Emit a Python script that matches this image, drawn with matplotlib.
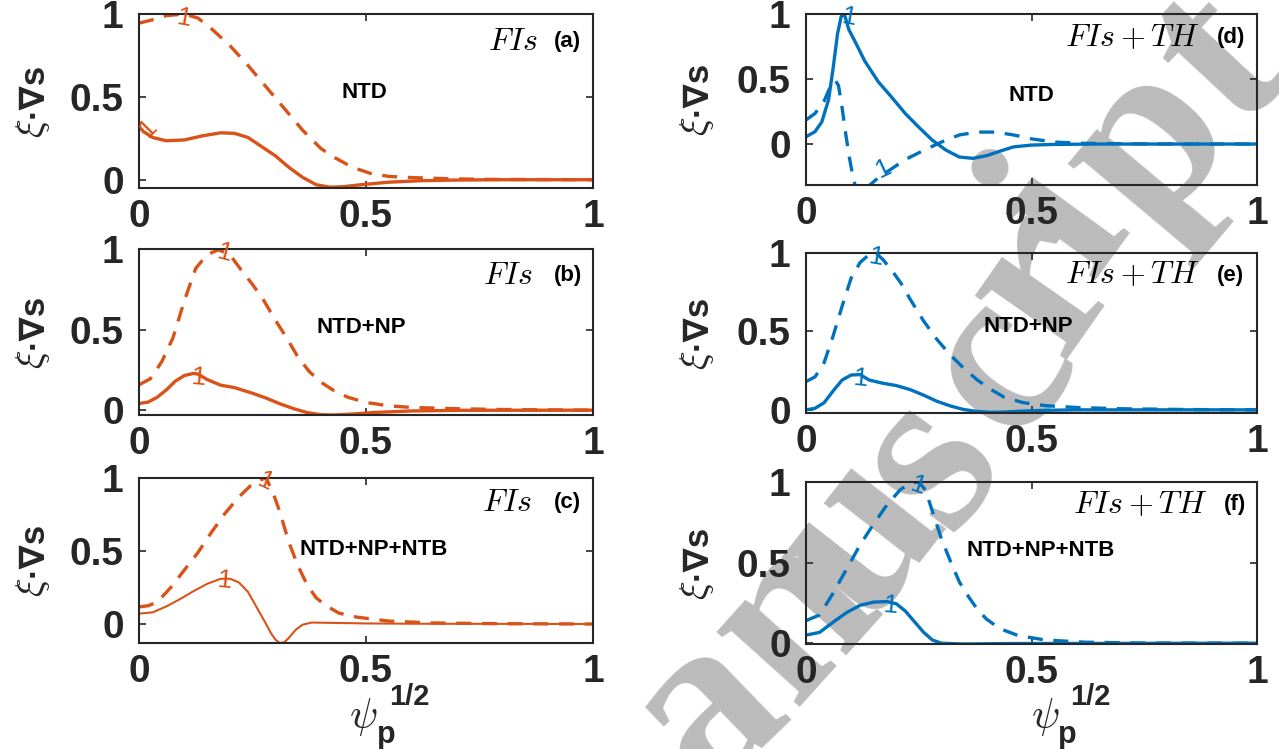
import matplotlib
matplotlib.use("Agg")
import matplotlib.pyplot as plt

plt.rcParams['mathtext.fontset'] = 'cm'
plt.rcParams['font.family'] = ['Liberation Sans', 'DejaVu Sans']

ORANGE = '#D95319'
BLUE = '#0072BD'
DARK = '#262626'

# (a) FIs, NTD
xa_dash = [0, 0.03, 0.06, 0.1, 0.13, 0.16, 0.2, 0.24, 0.28, 0.32, 0.36, 0.4, 0.43, 0.47, 0.51, 0.55, 0.6, 0.68, 0.77, 0.88, 1.0]
ya_dash = [0.945, 0.965, 0.99, 1.0, 0.975, 0.91, 0.81, 0.69, 0.56, 0.43, 0.3, 0.19, 0.135, 0.075, 0.038, 0.02, 0.013, 0.006, 0.002, 0.001, 0.0]
xa_sol = [0, 0.01, 0.03, 0.06, 0.1, 0.14, 0.18, 0.21, 0.24, 0.27, 0.3, 0.33, 0.36, 0.39, 0.42, 0.45, 0.49, 0.55, 0.62, 0.7, 0.8, 1.0]
ya_sol = [0.32, 0.29, 0.255, 0.235, 0.24, 0.265, 0.283, 0.28, 0.255, 0.2, 0.145, 0.075, 0.015, -0.03, -0.045, -0.042, -0.03, -0.015, -0.006, -0.002, 0.0, 0.0]

# (b) FIs, NTD+NP
xb_dash = [0, 0.025, 0.05, 0.075, 0.1, 0.125, 0.15, 0.175, 0.2, 0.225, 0.25, 0.275, 0.3, 0.325, 0.35, 0.375, 0.4, 0.43, 0.46, 0.5, 0.55, 0.6, 0.7, 0.8, 1.0]
yb_dash = [0.157, 0.195, 0.3, 0.45, 0.68, 0.88, 0.965, 0.995, 0.965, 0.87, 0.78, 0.68, 0.56, 0.45, 0.33, 0.24, 0.175, 0.12, 0.08, 0.048, 0.027, 0.017, 0.009, 0.004, 0.0]
xb_sol = [0, 0.02, 0.04, 0.06, 0.08, 0.1, 0.12, 0.13, 0.15, 0.18, 0.21, 0.25, 0.28, 0.31, 0.34, 0.37, 0.4, 0.43, 0.47, 0.52, 0.6, 0.7, 1.0]
yb_sol = [0.041, 0.05, 0.08, 0.125, 0.18, 0.215, 0.228, 0.224, 0.19, 0.155, 0.14, 0.105, 0.075, 0.04, 0.01, -0.015, -0.028, -0.03, -0.024, -0.014, -0.005, -0.001, 0.0]

# (c) FIs, NTD+NP+NTB
xc_dash = [0, 0.02, 0.04, 0.07, 0.1, 0.13, 0.16, 0.19, 0.22, 0.245, 0.27, 0.28, 0.295, 0.31, 0.33, 0.35, 0.37, 0.39, 0.41, 0.44, 0.48, 0.55, 0.65, 0.8, 1.0]
yc_dash = [0.117, 0.125, 0.15, 0.25, 0.37, 0.49, 0.63, 0.76, 0.87, 0.945, 0.99, 1.0, 0.9, 0.77, 0.56, 0.4, 0.27, 0.18, 0.13, 0.075, 0.047, 0.02, 0.007, 0.002, 0.0]
xc_sol = [0, 0.03, 0.06, 0.09, 0.12, 0.15, 0.18, 0.2, 0.22, 0.24, 0.26, 0.28, 0.29, 0.3, 0.31, 0.32, 0.33, 0.345, 0.36, 0.38, 0.42, 0.5, 0.6, 1.0]
yc_sol = [0.071, 0.08, 0.12, 0.17, 0.225, 0.275, 0.31, 0.31, 0.285, 0.22, 0.11, 0.0, -0.06, -0.105, -0.13, -0.125, -0.095, -0.04, -0.005, 0.01, 0.008, 0.004, 0.002, 0.0]

# (d) FIs+TH, NTD
xd_dash = [0, 0.02, 0.04, 0.055, 0.065, 0.072, 0.08, 0.088, 0.096, 0.104, 0.112, 0.12, 0.13, 0.14, 0.16, 0.19, 0.22, 0.26, 0.3, 0.34, 0.38, 0.42, 0.46, 0.5, 0.55, 0.62, 0.75, 1.0]
yd_dash = [0.185, 0.235, 0.33, 0.45, 0.49, 0.45, 0.28, 0.08, -0.1, -0.25, -0.36, -0.4, -0.38, -0.32, -0.26, -0.19, -0.12, -0.05, 0.015, 0.07, 0.092, 0.092, 0.07, 0.04, 0.015, 0.005, 0.001, 0.0]
xd_sol = [0, 0.02, 0.035, 0.05, 0.06, 0.07, 0.078, 0.085, 0.095, 0.11, 0.13, 0.16, 0.19, 0.22, 0.25, 0.28, 0.31, 0.34, 0.37, 0.4, 0.43, 0.46, 0.5, 0.55, 0.65, 1.0]
yd_sol = [0.056, 0.095, 0.17, 0.34, 0.58, 0.85, 0.98, 1.0, 0.88, 0.78, 0.64, 0.48, 0.36, 0.235, 0.13, 0.03, -0.046, -0.1, -0.11, -0.09, -0.055, -0.022, -0.008, -0.003, 0.0, 0.0]

# (e) FIs+TH, NTD+NP
xe_dash = [0, 0.02, 0.04, 0.06, 0.08, 0.1, 0.12, 0.14, 0.155, 0.17, 0.19, 0.21, 0.23, 0.26, 0.29, 0.32, 0.35, 0.38, 0.41, 0.44, 0.48, 0.53, 0.6, 0.7, 0.85, 1.0]
ye_dash = [0.18, 0.21, 0.3, 0.47, 0.66, 0.84, 0.94, 0.99, 1.0, 0.96, 0.89, 0.81, 0.71, 0.57, 0.45, 0.35, 0.265, 0.19, 0.13, 0.08, 0.047, 0.027, 0.015, 0.007, 0.002, 0.0]
xe_sol = [0, 0.02, 0.04, 0.06, 0.08, 0.1, 0.12, 0.14, 0.17, 0.2, 0.23, 0.26, 0.29, 0.32, 0.35, 0.38, 0.41, 0.44, 0.48, 0.53, 0.6, 1.0]
ye_sol = [0.0, 0.01, 0.045, 0.12, 0.19, 0.222, 0.225, 0.19, 0.17, 0.155, 0.13, 0.095, 0.055, 0.025, 0.002, -0.01, -0.016, -0.014, -0.008, -0.003, 0.0, 0.0]

# (f) FIs+TH, NTD+NP+NTB
xf_dash = [0, 0.03, 0.06, 0.09, 0.12, 0.15, 0.18, 0.21, 0.235, 0.25, 0.265, 0.28, 0.3, 0.32, 0.34, 0.36, 0.38, 0.4, 0.43, 0.47, 0.53, 0.62, 0.75, 1.0]
yf_dash = [0.14, 0.175, 0.31, 0.46, 0.61, 0.74, 0.86, 0.955, 0.995, 1.0, 0.95, 0.82, 0.65, 0.51, 0.38, 0.29, 0.21, 0.15, 0.09, 0.048, 0.02, 0.006, 0.001, 0.0]
xf_sol = [0, 0.03, 0.06, 0.09, 0.12, 0.15, 0.18, 0.2, 0.22, 0.24, 0.26, 0.28, 0.3, 0.35, 0.45, 1.0]
yf_sol = [0.05, 0.067, 0.13, 0.19, 0.235, 0.255, 0.258, 0.245, 0.2, 0.135, 0.07, 0.02, 0.0, -0.005, -0.002, 0.0]

W, H = 1279, 749
fig = plt.figure(figsize=(W / 100, H / 100), dpi=100)


def px(x, y):
    return x / W, 1 - y / H


def px_axes(x0, x1, y0, y1):
    # axes box given in pixel edges (y measured from the top)
    return fig.add_axes([x0 / W, 1 - y1 / H, (x1 - x0) / W, (y1 - y0) / H])


# grey "manuscript" stamp running behind the panels
stamp = [('a', 708, 712, 44), ('n', 795, 618, 48), ('u', 862, 538, 52), ('s', 930, 462, 54),
         ('c', 1000, 366, 55), ('r', 1044, 282, 55), ('i', 1062, 218, 54), ('p', 1150, 146, 50),
         ('t', 1222, 62, 47)]
for ch, sx, sy, rot in stamp:
    fig.text(*px(sx, sy), ch, family='Liberation Serif', fontsize=175, fontweight='bold', color='#BBBBBB',
             rotation=rot, ha='center', va='center', rotation_mode='anchor', zorder=-5)

panels = [
    dict(box=(139, 593, 14, 188), c=ORANGE, ylim=(-0.05, 1), dash=(xa_dash, ya_dash), sol=(xa_sol, ya_sol),
         lw=2.4, case=r'$FIs$', model='NTD', tag='(a)', case_x=0.824, tag_x=0.944, top_y=0.84, mod_xy=(0.496, 0.55),
         ones=[(0.1, 0.975, -10), (0.02, 0.31, 45)], ylab_x=-0.233),
    dict(box=(139, 593, 249, 415), c=ORANGE, ylim=(-0.03, 1), dash=(xb_dash, yb_dash), sol=(xb_sol, yb_sol),
         lw=2.4, case=r'$FIs$', model='NTD+NP', tag='(b)', case_x=0.813, tag_x=0.944, top_y=0.84, mod_xy=(0.49, 0.53),
         ones=[(0.189, 0.975, -15), (0.132, 0.2, -5)], ylab_x=-0.233),
    dict(box=(139, 593, 478, 643), c=ORANGE, ylim=(-0.13, 1), dash=(xc_dash, yc_dash), sol=(xc_sol, yc_sol),
         lw=1.5, case=r'$FIs$', model='NTD+NP+NTB', tag='(c)', case_x=0.81, tag_x=0.944, top_y=0.85, mod_xy=(0.518, 0.565),
         ones=[(0.279, 0.975, -25), (0.189, 0.3, -5)], ylab_x=-0.233),
    dict(box=(806, 1257, 14, 185), c=BLUE, ylim=(-0.315, 1), dash=(xd_dash, yd_dash), sol=(xd_sol, yd_sol),
         lw=2.4, case=r'$FIs + TH$', model='NTD', tag='(d)', case_x=0.723, tag_x=0.942, top_y=0.86, mod_xy=(0.5, 0.526),
         ones=[(0.096, 0.975, -10), (0.173, -0.19, 25)], ylab_x=-0.242),
    dict(box=(806, 1257, 253, 413), c=BLUE, ylim=(-0.02, 1), dash=(xe_dash, ye_dash), sol=(xe_sol, ye_sol),
         lw=2.4, case=r'$FIs + TH$', model='NTD+NP', tag='(e)', case_x=0.723, tag_x=0.942, top_y=0.86, mod_xy=(0.494, 0.54),
         ones=[(0.157, 0.975, -10), (0.121, 0.2, -5)], ylab_x=-0.242),
    dict(box=(806, 1257, 482, 644), c=BLUE, ylim=(-0.005, 1), dash=(xf_dash, yf_dash), sol=(xf_sol, yf_sol),
         lw=2.4, case=r'$FIs + TH$', model='NTD+NP+NTB', tag='(f)', case_x=0.74, tag_x=0.951, top_y=0.86, mod_xy=(0.52, 0.58),
         ones=[(0.25, 0.975, -20), (0.188, 0.235, -5)], ylab_x=-0.242),
]

axes = []
for p in panels:
    ax = px_axes(*p['box'])
    ax.patch.set_visible(False)
    axes.append(ax)
    ax.plot(*p['dash'], color=p['c'], lw=2.4, linestyle=(0, (4.5, 3.2)))
    ax.plot(*p['sol'], color=p['c'], lw=p['lw'])
    ax.set_xlim(0, 1)
    ax.set_ylim(*p['ylim'])
    ax.set_xticks([0, 0.5, 1])
    ax.set_xticklabels(['0', '0.5', '1'])
    ax.set_yticks([0, 0.5, 1])
    ax.set_yticklabels(['0', '0.5', '1'])
    ax.tick_params(direction='in', top=True, right=True, length=5, width=1.2, color=DARK,
                   labelsize=28, labelcolor=DARK)
    ax.tick_params(axis='x', pad=8)
    ax.tick_params(axis='y', pad=11)
    for lbl in ax.get_xticklabels() + ax.get_yticklabels():
        lbl.set_fontweight('bold')
    for s in ax.spines.values():
        s.set_linewidth(1.5)
        s.set_color(DARK)

    # level marks at the curve maxima
    for ox, oy, rot in p['ones']:
        ax.text(ox, oy, '1', color=p['c'], fontsize=19, ha='center', va='center', rotation=rot, clip_on=False)

    ax.text(p['case_x'], p['top_y'], p['case'], transform=ax.transAxes, fontsize=23, ha='center', va='center')
    ax.text(p['tag_x'], p['top_y'], p['tag'], transform=ax.transAxes, fontsize=16, fontweight='bold',
            ha='center', va='center')
    ax.text(*p['mod_xy'], p['model'], transform=ax.transAxes, fontsize=16, fontweight='bold',
            ha='center', va='center')

    # y label: italic xi followed by a bold "·∇s"
    ax.annotate(r'$\xi$', (p['ylab_x'], 0.5), xycoords='axes fraction', xytext=(0, -27),
                textcoords='offset pixels', rotation=90, fontsize=28, ha='center', va='center', color=DARK)
    ax.annotate('·∇s', (p['ylab_x'], 0.5), xycoords='axes fraction', xytext=(0, 11),
                textcoords='offset pixels', rotation=90, fontsize=25, fontweight='bold',
                ha='center', va='center', color=DARK)

# x labels under the bottom row
for ax, fx in ((axes[2], (0.495, 0.545, 0.595)), (axes[5], (0.53, 0.58, 0.63))):
    ax.text(fx[0], -0.45, r'$\psi$', transform=ax.transAxes, fontsize=30, ha='center', va='center', color=DARK)
    ax.text(fx[1], -0.56, 'p', transform=ax.transAxes, fontsize=22, fontweight='bold',
            ha='center', va='center', color=DARK)
    ax.text(fx[2], -0.325, '1/2', transform=ax.transAxes, fontsize=21, fontweight='bold',
            ha='center', va='center', color=DARK)

fig.savefig('out.png', dpi=100)
